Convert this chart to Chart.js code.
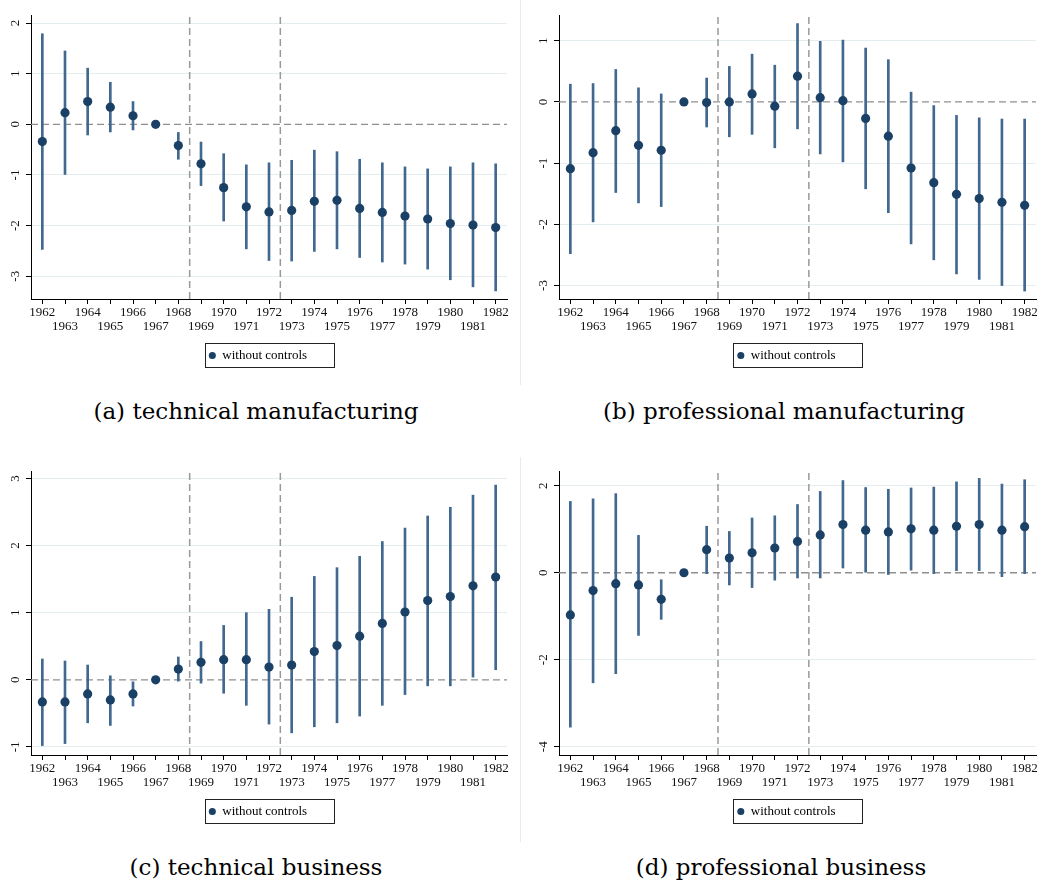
<!DOCTYPE html>
<html>
<head>
<meta charset="utf-8">
<script src="https://cdn.jsdelivr.net/npm/chart.js@4.4.1/dist/chart.umd.min.js"></script>
<style>
    html, body { margin: 0; padding: 0; background: #fff; overflow: hidden; }
    body { width: 1038px; height: 881px; position: relative; }
    canvas { position: absolute; }
    .caption {
        position: absolute; width: 520px; text-align: center; white-space: nowrap;
        font-family: "DejaVu Serif", serif; font-size: 23px; line-height: 26px; color: #000;
    }
    .sep { position: absolute; left: 520px; width: 1px; background: #e6edf0; }
</style>
</head>
<body>
<div class="sep" style="top:0;height:385px"></div>
<div class="sep" style="top:457px;height:385px"></div>

<canvas id="chart-a" width="516" height="380" style="left:0;top:0"></canvas>
<canvas id="chart-b" width="517" height="380" style="left:528px;top:0"></canvas>
<canvas id="chart-c" width="516" height="380" style="left:0;top:456px"></canvas>
<canvas id="chart-d" width="517" height="380" style="left:528px;top:456px"></canvas>

<div class="caption" style="left:-4px;top:398px">(a) technical manufacturing</div>
<div class="caption" style="left:524px;top:398px">(b) professional manufacturing</div>
<div class="caption" style="left:-4px;top:854px">(c) technical business</div>
<div class="caption" style="left:521px;top:854px">(d) professional business</div>

<script>
// --- Data ---
const years = [1962, 1963, 1964, 1965, 1966, 1967, 1968, 1969, 1970, 1971, 1972,
               1973, 1974, 1975, 1976, 1977, 1978, 1979, 1980, 1981, 1982];
const breakYears = [1968.5, 1972.5];
const legendLabel = 'without controls';

const techManuCoef = [-0.34, 0.23, 0.45, 0.34, 0.17, 0, -0.42, -0.78, -1.25, -1.63, -1.73, -1.70, -1.52, -1.50, -1.66, -1.74, -1.81, -1.87, -1.96, -1.99, -2.04];
const techManuLow  = [-2.47, -0.99, -0.21, -0.15, -0.11, null, -0.69, -1.21, -1.91, -2.46, -2.69, -2.70, -2.51, -2.46, -2.63, -2.72, -2.76, -2.86, -3.07, -3.21, -3.29];
const techManuHigh = [1.79, 1.45, 1.11, 0.83, 0.45, null, -0.16, -0.35, -0.58, -0.80, -0.76, -0.71, -0.51, -0.54, -0.69, -0.76, -0.84, -0.88, -0.84, -0.76, -0.78];
const techManuTicks = [-3, -2, -1, 0, 1, 2];

const profManuCoef = [-1.09, -0.83, -0.47, -0.71, -0.79, 0, -0.01, 0.00, 0.13, -0.07, 0.42, 0.07, 0.02, -0.27, -0.56, -1.08, -1.32, -1.51, -1.58, -1.64, -1.69];
const profManuLow  = [-2.48, -1.96, -1.48, -1.65, -1.71, null, -0.41, -0.57, -0.53, -0.75, -0.44, -0.85, -0.98, -1.42, -1.81, -2.32, -2.58, -2.81, -2.90, -3.00, -3.09];
const profManuHigh = [0.29, 0.30, 0.53, 0.23, 0.13, null, 0.39, 0.58, 0.78, 0.60, 1.28, 0.99, 1.01, 0.88, 0.69, 0.16, -0.06, -0.22, -0.26, -0.28, -0.28];
const profManuTicks = [-3, -2, -1, 0, 1];

const techBusCoef = [-0.33, -0.33, -0.21, -0.30, -0.21, 0, 0.16, 0.26, 0.30, 0.30, 0.19, 0.22, 0.42, 0.51, 0.65, 0.84, 1.01, 1.18, 1.24, 1.40, 1.53];
const techBusLow  = [-0.98, -0.95, -0.64, -0.68, -0.39, null, -0.02, -0.05, -0.20, -0.38, -0.66, -0.79, -0.70, -0.64, -0.54, -0.38, -0.22, -0.09, -0.09, 0.04, 0.15];
const techBusHigh = [0.31, 0.28, 0.22, 0.06, -0.03, null, 0.34, 0.57, 0.81, 1.00, 1.05, 1.23, 1.54, 1.67, 1.84, 2.06, 2.26, 2.44, 2.57, 2.75, 2.90];
const techBusTicks = [-1, 0, 1, 2, 3];

const profBusCoef = [-0.97, -0.41, -0.25, -0.28, -0.61, 0, 0.53, 0.34, 0.46, 0.57, 0.72, 0.87, 1.11, 0.98, 0.94, 1.01, 0.98, 1.07, 1.11, 0.98, 1.06];
const profBusLow  = [-3.55, -2.53, -2.32, -1.44, -1.07, null, -0.02, -0.28, -0.34, -0.17, -0.12, -0.12, 0.11, 0.00, -0.04, 0.06, -0.02, 0.05, 0.05, -0.09, -0.02];
const profBusHigh = [1.64, 1.70, 1.82, 0.86, -0.16, null, 1.07, 0.95, 1.26, 1.31, 1.57, 1.87, 2.12, 1.96, 1.92, 1.95, 1.97, 2.09, 2.17, 2.04, 2.14];
const profBusTicks = [-4, -2, 0, 2];

// --- Styles ---
const pointColor = '#1b4066';
const barColor = '#41688f';
const refLineColor = '#8f8f8f';
const serifFamily = '"Liberation Serif", "Times New Roman", serif';
const tickFont = { family: serifFamily, size: 13, lineHeight: 1.03 };
const xMin = 1961.5, xMax = 1982.5;

// box drawn around the legend, like the Stata legend frame
const legendFrame = {
    id: 'legendFrame',
    afterDraw(chart) {
        const hb = chart.legend && chart.legend.legendHitBoxes[0];
        if (!hb) return;
        const ctx = chart.ctx;
        ctx.save();
        ctx.strokeStyle = '#222';
        ctx.lineWidth = 1;
        ctx.strokeRect(Math.round(hb.left - 4) + 0.5, Math.round(hb.top - 6) + 0.5, Math.round(hb.width + 31), 24);
        ctx.restore();
    }
};

function makeChart(canvasId, coef, low, high, yMin, yMax, yTicks) {
    const points = years.map((yr, i) => ({ x: yr, y: coef[i] }));
    const bars = [];
    years.forEach((yr, i) => {
        if (low[i] !== null) bars.push({ x: yr, y: [low[i], high[i]] });
    });

    const datasets = [
        {
            type: 'scatter', label: legendLabel, data: points, order: 0,
            backgroundColor: pointColor, borderColor: pointColor, borderWidth: 0,
            pointRadius: 4.6, pointHoverRadius: 4.6
        },
        {
            type: 'bar', label: 'ci', data: bars, order: 1,
            backgroundColor: barColor, borderWidth: 0, barThickness: 2
        },
        {
            type: 'line', label: 'zero', order: 2,
            data: [{ x: xMin, y: 0 }, { x: xMax, y: 0 }],
            borderColor: refLineColor, borderWidth: 1.3, borderDash: [7, 4], pointRadius: 0
        }
    ];
    breakYears.forEach(b => {
        datasets.push({
            type: 'line', label: 'break', order: 2,
            data: [{ x: b, y: yMin }, { x: b, y: yMax }],
            borderColor: '#999', borderWidth: 1.5, borderDash: [7, 4], pointRadius: 0
        });
    });

    return new Chart(document.getElementById(canvasId), {
        type: 'scatter',
        data: { datasets: datasets },
        plugins: [legendFrame],
        options: {
            responsive: false,
            animation: false,
            layout: { padding: { left: 9, right: 9, top: 15, bottom: 8 } },
            plugins: {
                tooltip: { enabled: false },
                legend: {
                    position: 'bottom',
                    labels: {
                        filter: item => item.datasetIndex === 0,
                        usePointStyle: true, pointStyle: 'circle',
                        boxWidth: 7, boxHeight: 5, padding: 10,
                        color: '#000',
                        font: { family: serifFamily, size: 13 }
                    }
                }
            },
            scales: {
                x: {
                    type: 'linear', min: xMin, max: xMax, offset: false,
                    afterBuildTicks: s => { s.ticks = years.map(v => ({ value: v })); },
                    afterFit: s => { s.height = 40; },
                    ticks: {
                        autoSkip: false, maxRotation: 0, minRotation: 0, padding: 2,
                        color: '#111', font: tickFont,
                        callback: v => (v % 2 === 0 ? [String(v), ''] : ['', String(v)])
                    },
                    grid: { offset: false, drawOnChartArea: false, drawTicks: true, tickLength: 5, tickColor: '#000' },
                    border: { color: '#000', width: 1 }
                },
                y: {
                    type: 'linear', min: yMin, max: yMax,
                    afterBuildTicks: s => { s.ticks = yTicks.map(v => ({ value: v })); },
                    afterFit: s => { s.width = 22; },
                    ticks: {
                        minRotation: 90, maxRotation: 90, crossAlign: 'center', padding: 5,
                        color: '#111', font: tickFont,
                        callback: v => String(v)
                    },
                    grid: {
                        color: c => (c.tick && c.tick.value === 0 ? 'rgba(0,0,0,0)' : '#e5edf0'),
                        drawTicks: true, tickLength: 5, tickColor: '#000'
                    },
                    border: { color: '#000', width: 1 }
                }
            }
        }
    });
}

makeChart('chart-a', techManuCoef, techManuLow, techManuHigh, -3.45, 2.16, techManuTicks);
makeChart('chart-b', profManuCoef, profManuLow, profManuHigh, -3.22, 1.42, profManuTicks);
makeChart('chart-c', techBusCoef, techBusLow, techBusHigh, -1.12, 3.11, techBusTicks);
makeChart('chart-d', profBusCoef, profBusLow, profBusHigh, -4.19, 2.34, profBusTicks);
</script>
</body>
</html>
